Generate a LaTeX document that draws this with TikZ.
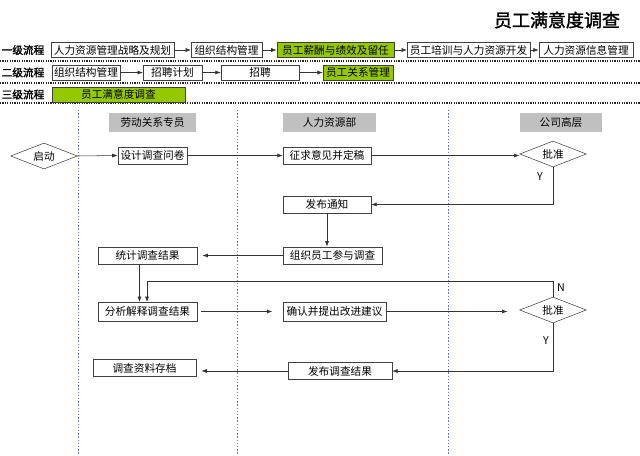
\documentclass[tikz,border=0pt]{standalone}
\usepackage{fontspec}
\setmainfont{Liberation Sans}
\newfontfamily\cjk{Noto Sans CJK SC}
\newfontfamily\cjkbold[FakeBold=1.6]{Noto Sans CJK SC}
\usepackage{tikz}
\usetikzlibrary{shapes.geometric,arrows.meta}
\definecolor{flowgreen}{RGB}{150,200,0}
\definecolor{headgray}{RGB}{192,192,192}
\definecolor{laneblue}{RGB}{110,110,225}

\begin{document}
\begin{tikzpicture}[x=0.75pt,y=-0.75pt,
	font=\cjk\fontsize{8}{9}\selectfont,
	rowbox/.style={draw=black!75,inner sep=1pt,minimum height=11pt},
	flowbox/.style={draw=black!75,inner sep=1pt,minimum height=13pt},
	headbox/.style={fill=headgray,inner sep=1pt,minimum height=14pt},
	decide/.style={diamond,draw=black!75,aspect=2.55,inner sep=0pt,minimum width=50pt,minimum height=19.5pt},
	arr/.style={draw=black!80,-{Latex[length=4pt,width=3pt]}},
	dotline/.style={black!85,line width=1pt,dash pattern=on 0.9pt off 0.9pt},
	laneline/.style={laneblue,line width=0.6pt,dash pattern=on 1pt off 1.4pt}]
	\useasboundingbox (0,0) rectangle (640,455);
	\node[font=\cjkbold\fontsize{13.5}{15}\selectfont] (title) at (557,20) {员工满意度调查};
	\foreach \y/\n/\t in {50/lv1/一级流程,72.5/lv2/二级流程,94.5/lv3/三级流程}
		\node[font=\cjkbold\fontsize{8}{9}\selectfont] (\n) at (23,\y) {\t};
	\foreach \y in {61,83,103}
		\draw[dotline] (0,\y) -- (640,\y);
\foreach \n/\x/\w/\c/\t in {b1/112.5/92/white/人力资源管理战略及规划,b2/226.5/53/white/组织结构管理,b3/335.5/88/flowgreen/员工薪酬与绩效及留任,b4/468.5/92/white/员工培训与人力资源开发,b5/586/70.5/white/人力资源信息管理}
	\node[rowbox,fill=\c,minimum width=\w pt] (\n) at (\x,50) {\t};
\foreach \n/\x/\w/\c/\t in {c1/86/51/white/组织结构管理,c2/172.5/44/white/招聘计划,c3/260/58.5/white/招聘,c4/358/52.5/flowgreen/员工关系管理}
	\node[rowbox,fill=\c,minimum width=\w pt] (\n) at (\x,72.5) {\t};
	\node[rowbox,fill=flowgreen,minimum width=100pt] (d1) at (118.5,94.5) {员工满意度调查};
\foreach \a/\b in {b1/b2,b2/b3,b3/b4,b4/b5,c1/c2,c2/c3,c3/c4}
	\draw[arr] (\a) -- (\b);
	\foreach \x in {78,237,448}
		\draw[laneline] (\x,110) -- (\x,455);
	\node[headbox,minimum width=65pt] (h1) at (152.5,122.5) {劳动关系专员};
	\node[headbox,minimum width=70pt] (h2) at (329.5,122.5) {人力资源部};
	\node[headbox,minimum width=61.5pt] (h3) at (561,122.5) {公司高层};
	\node[decide] (start) at (44,156) {启动};
	\node[flowbox,minimum width=52pt] (sj) at (152.5,155.5) {设计调查问卷};
	\node[flowbox,minimum width=66pt] (zq) at (327,155.5) {征求意见并定稿};
	\node[decide] (pz1) at (553,154) {批准};
	\node[flowbox,minimum width=66pt] (fb) at (327,204.5) {发布通知};
	\node[flowbox,minimum width=74pt] (zz) at (332.5,255.5) {组织员工参与调查};
	\node[flowbox,minimum width=74pt] (tj) at (147.5,255.5) {统计调查结果};
	\node[flowbox,minimum width=74pt,minimum height=14pt] (fx) at (147.5,311.5) {分析解释调查结果};
	\node[flowbox,minimum width=77pt,minimum height=14pt] (qr) at (334.5,311.5) {确认并提出改进建议};
	\node[decide] (pz2) at (553,310) {批准};
	\node[flowbox,minimum width=78pt] (fj) at (340,371) {发布调查结果};
	\node[flowbox,minimum width=77pt] (cd) at (144.5,368) {调查资料存档};
	\node (y1) at (540,177) {Y};
	\node (y2) at (546,341) {Y};
	\node (n1) at (561,288) {N};
	\coordinate (nturn) at (147,281);
	\draw[arr] (start.east) -- (sj.west);
	\draw[arr] (sj.east) -- (zq.west);
	\draw[arr] (zq.east) -- (zq.east -| pz1.west);
	\draw[arr] (pz1.south) |- (fb.east);
	\draw[arr] (fb.south) -- (fb.south |- zz.north);
	\draw[arr,shorten >=4pt] (zz.west) -- (tj.east);
	\draw[arr] ([xshift=-6pt]tj.south) -- ([xshift=-6pt]fx.north);
	\draw[arr] (pz2.north) |- (nturn) -- (nturn |- fx.north);
	\draw[arr,shorten <=3pt,shorten >=8pt] (fx.east) -- (qr.west);
	\draw[arr,shorten >=9pt] (qr.east) -- (qr.east -| pz2.west);
	\draw[arr] (pz2.south) |- (fj.east);
	\draw[arr,shorten >=4pt] (fj.west) -- (fj.west -| cd.east);
\end{tikzpicture}
\end{document}
